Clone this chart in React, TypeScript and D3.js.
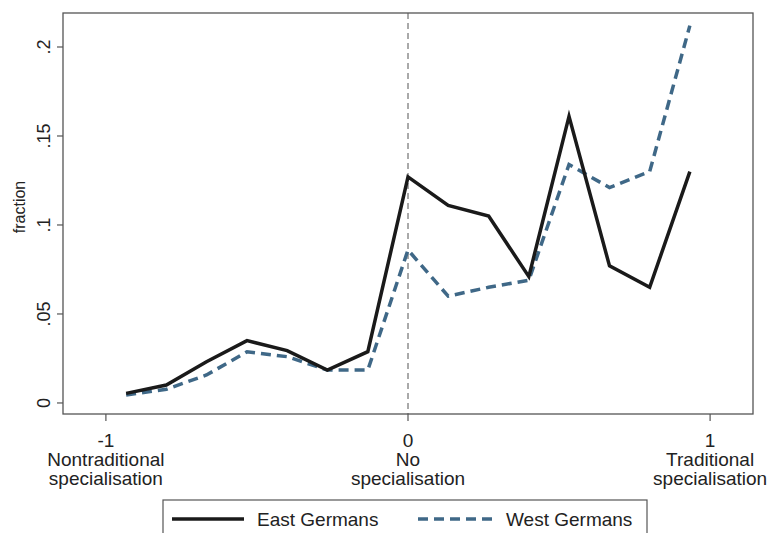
import React, { useEffect, useRef } from 'react';
import * as d3 from 'd3';

// bin centres of the specialisation index (15 bins from -1 to 1)
const binCenters = [-0.933, -0.8, -0.667, -0.533, -0.4, -0.267, -0.133, 0, 0.133, 0.267, 0.4, 0.533, 0.667, 0.8, 0.933];
const eastGermans = [0.0054, 0.0101, 0.0232, 0.035, 0.0294, 0.0185, 0.0288, 0.127, 0.111, 0.105, 0.071, 0.161, 0.077, 0.065, 0.130];
const westGermans = [0.0045, 0.0077, 0.0157, 0.0288, 0.026, 0.0185, 0.0185, 0.086, 0.060, 0.065, 0.069, 0.134, 0.121, 0.130, 0.212];
const yTicks = [0, 0.05, 0.1, 0.15, 0.2];
const xTicks = [-1, 0, 1];
const xTickNames = [['Nontraditional', 'specialisation'], ['No', 'specialisation'], ['Traditional', 'specialisation']];
const seriesNames = ['East Germans', 'West Germans'];

const W = 772;
const H = 533;
const FONT = 'Liberation Sans, Arial, sans-serif';
const EAST_COLOR = '#1a1a1a';
const WEST_COLOR = '#3f6887';

export default function App() {
  const svgRef = useRef<SVGSVGElement>(null);

  useEffect(() => {
    const svg = d3.select(svgRef.current);
    svg.selectAll('*').remove();

    const left = 63, right = 753, top = 13, bottom = 414;

    const x = d3.scaleLinear().domain([-1.142, 1.142]).range([left, right]);
    const y = d3.scaleLinear().domain([-0.0062, 0.2191]).range([bottom, top]);

    // frame
    svg.append('rect')
      .attr('x', left).attr('y', top)
      .attr('width', right - left).attr('height', bottom - top)
      .attr('fill', 'none').attr('stroke', '#555').attr('stroke-width', 1.3);

    // reference line at 0
    svg.append('line')
      .attr('x1', x(0)).attr('x2', x(0))
      .attr('y1', top).attr('y2', bottom)
      .attr('stroke', '#555').attr('stroke-width', 1)
      .attr('stroke-dasharray', '6,4');

    // y axis
    const fmt = (d: number) => d === 0 ? '0' : String(d).replace(/^0/, '');
    const yAxis = svg.append('g');
    yAxis.selectAll('.ytick').data(yTicks).enter().append('line')
      .attr('x1', left - 6).attr('x2', left)
      .attr('y1', d => y(d)).attr('y2', d => y(d))
      .attr('stroke', '#555').attr('stroke-width', 1.2);
    yAxis.selectAll('.ylab').data(yTicks).enter().append('text')
      .attr('transform', d => `translate(50, ${y(d)}) rotate(-90)`)
      .attr('text-anchor', 'middle')
      .style('font-family', FONT).style('font-size', '18px').style('fill', '#222')
      .text(d => fmt(d));
    svg.append('text')
      .attr('transform', `translate(25, ${y(0.1) - 18}) rotate(-90)`)
      .attr('text-anchor', 'middle')
      .style('font-family', FONT).style('font-size', '16px').style('fill', '#222')
      .text('fraction');

    // x axis
    const xAxis = svg.append('g');
    xAxis.selectAll('.xtick').data(xTicks).enter().append('line')
      .attr('x1', d => x(d)).attr('x2', d => x(d))
      .attr('y1', bottom).attr('y2', bottom + 7)
      .attr('stroke', '#555').attr('stroke-width', 1.2);
    xTicks.forEach((t, i) => {
      const lines = [String(t), ...xTickNames[i]];
      lines.forEach((s, j) => {
        xAxis.append('text')
          .attr('x', x(t)).attr('y', 447 + j * 19)
          .attr('text-anchor', 'middle')
          .style('font-family', FONT).style('font-size', '19px').style('fill', '#222')
          .text(s);
      });
    });

    // lines
    const line = d3.line<number>()
      .x((_, i) => x(binCenters[i]))
      .y(d => y(d));

    svg.append('path')
      .attr('d', line(westGermans))
      .attr('fill', 'none').attr('stroke', WEST_COLOR)
      .attr('stroke-width', 3.5).attr('stroke-dasharray', '10,6');
    svg.append('path')
      .attr('d', line(eastGermans))
      .attr('fill', 'none').attr('stroke', EAST_COLOR)
      .attr('stroke-width', 3.5).attr('stroke-linejoin', 'miter');

    // legend
    const lg = svg.append('g');
    lg.append('rect')
      .attr('x', 163).attr('y', 500).attr('width', 484).attr('height', 45)
      .attr('fill', '#fff').attr('stroke', '#555').attr('stroke-width', 1.2);
    lg.append('line')
      .attr('x1', 172).attr('x2', 244).attr('y1', 519).attr('y2', 519)
      .attr('stroke', EAST_COLOR).attr('stroke-width', 3.5);
    lg.append('text')
      .attr('x', 257).attr('y', 526)
      .style('font-family', FONT).style('font-size', '19px').style('fill', '#222')
      .text(seriesNames[0]);
    lg.append('line')
      .attr('x1', 418).attr('x2', 493).attr('y1', 519).attr('y2', 519)
      .attr('stroke', WEST_COLOR).attr('stroke-width', 3.5).attr('stroke-dasharray', '10,6');
    lg.append('text')
      .attr('x', 506).attr('y', 526)
      .style('font-family', FONT).style('font-size', '19px').style('fill', '#222')
      .text(seriesNames[1]);
  }, []);

  return (
    <div style={{ position: 'absolute', left: 0, top: 0 }}>
      <svg ref={svgRef} width={W} height={H} style={{ display: 'block', background: '#fff' }}></svg>
    </div>
  );
}
